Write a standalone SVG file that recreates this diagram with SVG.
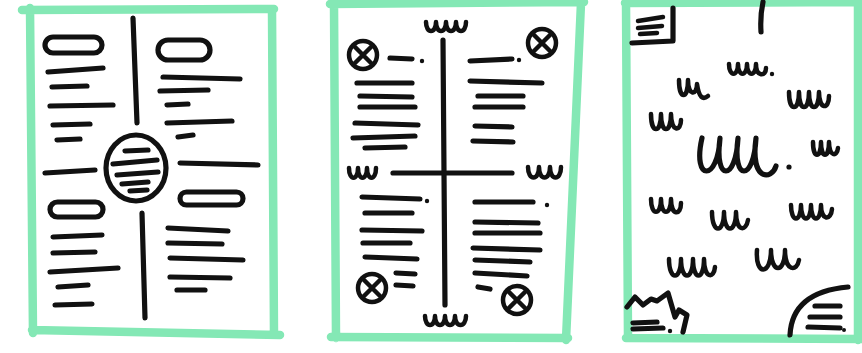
<svg xmlns="http://www.w3.org/2000/svg" width="862" height="353" viewBox="0 0 862 353">
<style>
.frame{fill:none;stroke:#84e8b5;stroke-width:8.5;stroke-linecap:round;stroke-linejoin:round}
.ink{fill:none;stroke:#111;stroke-width:5.2;stroke-linecap:round;stroke-linejoin:round}
.thin{fill:none;stroke:#111;stroke-width:4.5;stroke-linecap:round;stroke-linejoin:round}
.dot{fill:#111}
</style>
<rect width="862" height="353" fill="#fff"/>

<g id="page1">
  <path class="frame" d="M22,10 L274,9 M30,8 L33,333 M272,10 L274,335 M32,330 L280,335"/>
  <path class="ink" d="M133,18 L137,123 M142,213 L145,318"/>
  <ellipse class="ink" cx="136" cy="168" rx="30" ry="33"/>
  <path class="ink" d="M125,151 L148,150 M113,164 L157,160 M117,175 L158,172 M122,184 L148,182 M130,191 L147,190"/>
  <path class="ink" d="M45,173 L95,170 M180,163 L258,165"/>
  <rect class="ink" x="45" y="37" width="57" height="16" rx="8"/>
  <rect class="ink" x="158" y="40" width="52" height="20" rx="10"/>
  <rect class="ink" x="50" y="202" width="53" height="15" rx="7.5"/>
  <rect class="ink" x="180" y="192" width="63" height="13" rx="6.5"/>
  <path class="ink" d="M48,72 L103,68 M52,87 L87,86 M50,106 L113,105 M53,125 L90,124 M57,140 L80,139"/>
  <path class="ink" d="M163,77 L240,79 M160,91 L208,90 M167,105 L188,104 M167,123 L232,121 M178,137 L193,135"/>
  <path class="ink" d="M53,237 L102,235 M53,253 L95,252 M50,272 L118,268 M58,287 L88,285 M55,305 L92,304"/>
  <path class="ink" d="M168,228 L228,231 M168,243 L222,244 M170,258 L243,260 M170,277 L230,278 M177,290 L205,290"/>
</g>

<g id="page2">
  <path class="frame" d="M330,4 L584,2 M334,4 L336,338 M581,3 L566,340 M331,337 L568,338"/>
  <path class="ink" d="M443,40 L445,305 M393,173 L512,173"/>
  <path class="thin" d="M426,22 c0,12 10,12 10,0 c0,12 10,12 10,0 c0,12 10,12 10,0 c0,12 10,12 10,0"/>
  <path class="thin" d="M425,316 c0,12 10,12 10,0 c0,12 10,12 10,0 c0,12 10,12 10,0 c0,12 11,12 11,0"/>
  <path class="thin" d="M349,168 c0,13 9,13 9,0 c0,13 9,13 9,0 c0,13 9,13 9,0"/>
  <path class="thin" d="M528,167 c0,14 11,14 11,0 c0,14 11,14 11,0 c0,14 11,14 11,0"/>
  <g class="thin">
    <circle cx="363" cy="55" r="14"/><path d="M354,46 L372,64 M372,46 L354,64"/>
    <circle cx="542" cy="43" r="14"/><path d="M533,34 L551,52 M551,34 L533,52"/>
    <circle cx="372" cy="288" r="14"/><path d="M363,279 L381,297 M381,279 L363,297"/>
    <circle cx="517" cy="300" r="14"/><path d="M508,291 L526,309 M526,291 L508,309"/>
  </g>
  <path class="ink" d="M390,58 L412,59 M357,83 L412,83 M360,96 L412,97 M360,107 L415,107 M355,123 L418,125 M353,138 L415,136 M365,148 L405,147"/>
  <path class="ink" d="M470,61 L512,59 M470,81 L542,83 M478,96 L523,96 M475,107 L523,107 M475,126 L512,127 M473,141 L513,142"/>
  <path class="ink" d="M362,197 L420,199 M365,213 L412,213 M362,230 L422,231 M363,243 L410,243 M365,257 L417,259 M396,273 L415,274 M396,285 L413,286"/>
  <path class="ink" d="M475,202 L533,202 M475,222 L538,223 M475,233 L540,233 M473,248 L540,250 M475,260 L530,262 M475,273 L527,276 M478,287 L490,289"/>
  <circle class="dot" cx="422" cy="61" r="2.2"/>
  <circle class="dot" cx="519" cy="60" r="2.2"/>
  <circle class="dot" cx="427" cy="201" r="2.2"/>
  <circle class="dot" cx="547" cy="205" r="2.2"/>
</g>

<g id="page3">
  <path class="frame" d="M625,3 L862,2 M626,2 L628,338 M858,2 L858,340 M626,338 L862,339"/>
  <path class="ink" d="M632,43 L673,41 L673,8"/>
  <path class="thin" d="M638,21 L663,17 M638,28 L662,26 M640,34 L657,33"/>
  <path class="ink" d="M763,2 Q760,16 761,32"/>
  <g class="thin">
    <path d="M729,64 c0,13 9,13 9,0 c0,13 9,13 9,0 c0,13 9,13 9,0 c0,13 10,13 10,4"/>
    <path d="M679,80 c0,20 9,20 9,0 c0,16 9,16 9,4 c2,14 6,16 11,12"/>
    <path d="M789,92 c0,20 10,20 10,0 c0,20 10,20 10,0 c0,20 10,20 10,0 c0,18 10,18 10,4"/>
    <path d="M651,114 c0,20 10,20 10,0 c0,20 10,20 10,0 c0,18 10,18 10,6"/>
    <path d="M813,142 c0,17 8,17 8,0 c0,17 8,17 8,0 c0,15 8,15 9,6"/>
    <path d="M651,199 c0,17 10,17 10,0 c0,17 10,17 10,0 c0,17 10,17 10,4"/>
    <path d="M712,212 c0,22 12,22 12,0 c0,22 12,22 12,0 c0,20 10,20 12,8"/>
    <path d="M791,205 c0,18 10,18 10,0 c0,18 10,18 10,0 c0,18 10,18 10,0 c0,16 10,16 11,4"/>
    <path d="M669,259 c0,22 12,22 12,0 c0,22 12,22 12,0 c0,22 11,22 11,0 c0,20 10,20 11,8"/>
    <path d="M757,250 c-2,26 14,26 14,0 c0,24 14,24 14,0 c0,22 12,22 14,10"/>
  </g>
  <path class="ink" d="M702,138 c-10,44 16,44 18,0 c-6,44 16,44 18,0 c-6,44 16,44 18,0 c-6,44 16,42 20,28"/>
  <circle class="dot" cx="772" cy="74" r="2.2"/>
  <circle class="dot" cx="789" cy="167" r="2.6"/>
  <path class="ink" d="M627,307 L635,297 L643,305 L651,299 L657,301 L668,293 L675,317 L679,310 L687,315 L683,332"/>
  <path class="ink" d="M633,323 L657,322 M633,329 L663,328"/>
  <circle class="dot" cx="670" cy="331" r="2.2"/>
  <path class="ink" d="M790,335 Q792,292 848,287"/>
  <path class="ink" d="M815,306 L840,306 M810,317 L840,317 M808,327 L840,328"/>
  <circle class="dot" cx="844" cy="330" r="2"/>
</g>
</svg>
